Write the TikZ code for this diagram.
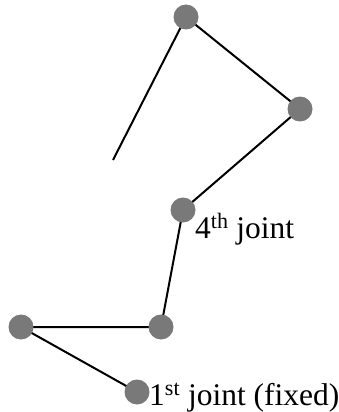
\documentclass[tikz,border=0pt]{standalone}
\usepackage{fontspec}
\setmainfont{Liberation Serif}
\usetikzlibrary{positioning,backgrounds}
\tikzset{
  joint/.style={circle, fill=gray!95!black, inner sep=0pt, minimum size=25pt},
  link/.style={line width=2pt, black},
  jointlabel/.style={font=\fontsize{31.5}{36}\selectfont, inner sep=0pt, anchor=base west}
}
\begin{document}
\begin{tikzpicture}[x=1pt, y=-1pt]
  \useasboundingbox (0,0) rectangle (338,412);
  %% joints, from the fixed one up to the last
  \node[joint] (j1) at (137,392) {};
  \node[joint] (j2) at (21,327) {};
  \node[joint] (j3) at (161,327) {};
  \node[joint] (j4) at (183,210) {};
  \node[joint] (j5) at (300,109) {};
  \node[joint] (j6) at (186,17) {};
  \coordinate (tip) at (113,160);
  %% links behind the joints
  \begin{scope}[on background layer]
    \draw[link] (j1.center) -- (j2.center) -- (j3.center) -- (j4.center)
      -- (j5.center) -- (j6.center) -- (tip);
  \end{scope}
  %% labels
  \node[jointlabel] (l4) at (195,238) {4\textsuperscript{th} joint};
  \node[jointlabel] (l1) at (149,405) {1\textsuperscript{st} joint (fixed)};
\end{tikzpicture}
\end{document}
